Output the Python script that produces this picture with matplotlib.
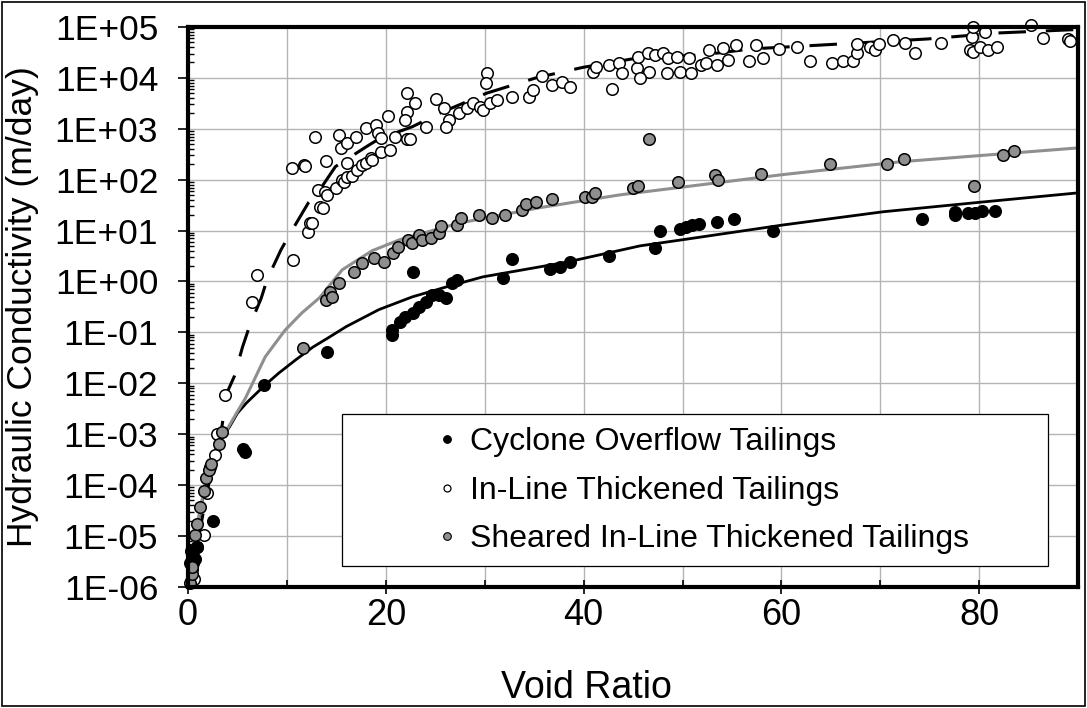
import numpy as np
import matplotlib
matplotlib.use("Agg")
import matplotlib.pyplot as plt
from matplotlib.ticker import FuncFormatter, LogLocator, MultipleLocator, NullFormatter
from matplotlib.patches import Rectangle
from matplotlib.lines import Line2D

plt.rcParams['font.family'] = ['Liberation Sans', 'DejaVu Sans']

# cyclone overflow tailings: void ratio, hydraulic conductivity (m/day)
cyclone_e = [0.2, 0.3, 0.5, 0.7, 0.9, 0.4, 2.5, 5.6, 5.8, 7.7, 14.1, 20.6, 20.6,
             21.4, 21.9, 22.7, 23.4, 24.1, 24.7, 25.4, 26.1, 26.7, 27.2, 22.7,
             31.8, 32.8, 36.6, 37.6, 38.6, 42.6, 47.2, 47.7, 49.7, 50.4, 51.0,
             51.7, 53.5, 55.2, 59.2, 74.2, 77.6, 77.6, 78.9, 79.6, 80.3, 81.6]
cyclone_k = [3.0e-6, 5.0e-6, 4.0e-6, 3.5e-6, 6.0e-6, 2.2e-6, 2.0e-5, 5.1e-4,
             4.5e-4, 9.3e-3, 4.1e-2, 8.9e-2, 0.11, 0.16, 0.20, 0.24, 0.32,
             0.40, 0.54, 0.54, 0.48, 0.93, 1.07, 1.55, 1.17, 2.77, 1.77, 1.9,
             2.4, 3.2, 4.6, 9.8, 10.7, 11.7, 12.9, 13.5, 14.8, 17.0, 9.8, 17.0,
             20.4, 23.0, 22.3, 22.3, 24.0, 24.0]

# in-line thickened tailings
inline_e = [0.3, 0.6, 0.5, 0.9, 1.6, 1.9, 2.2, 2.7, 2.9, 3.7, 6.5, 7.0, 10.6,
            12.1, 12.3, 12.5, 13.3, 13.6, 13.1, 13.8, 14.1, 15.0, 15.6, 15.8,
            16.1, 16.6, 17.1, 16.1, 17.6, 18.0, 18.5, 18.6, 19.5, 20.4, 20.9,
            22.1, 22.4, 10.5, 11.7, 11.8, 13.9, 12.8, 15.3, 15.5, 16.1, 17.0,
            18.0, 19.0, 19.2, 20.2, 19.5, 22.1, 22.1, 22.9, 21.9, 24.1, 25.1,
            25.9, 26.4, 26.1, 27.4, 28.2, 28.8, 29.5, 29.8, 30.2, 30.1, 30.5,
            31.2, 32.8, 34.5, 34.9, 35.8, 36.8, 37.8, 38.6, 40.9, 41.3, 42.6,
            43.6, 43.9, 42.9, 45.4, 45.5, 46.5, 46.6, 45.7, 47.2, 48.0, 48.4,
            48.5, 49.4, 49.7, 50.7, 50.9, 51.9, 52.4, 52.7, 53.5, 54.1, 54.6,
            55.4, 56.7, 57.4, 58.1, 59.8, 61.6, 62.9, 65.1, 66.2, 67.2, 67.6,
            67.6, 69.0, 69.5, 69.9, 71.3, 72.5, 73.5, 76.1, 79.1, 79.3, 79.4,
            79.4, 80.1, 80.6, 80.9, 81.8, 85.2, 86.5, 89.0, 89.2]
inline_k = [1.3e-6, 1.4e-6, 3.0e-6, 6.0e-6, 1.05e-5, 6.9e-5, 2.3e-4, 3.9e-4,
            1.0e-3, 5.9e-3, 0.40, 1.35, 2.6, 9.4, 14, 14, 29, 28, 63, 58, 50,
            69, 98, 89, 112, 120, 155, 213, 190, 213, 267, 240, 350, 380, 690,
            630, 630, 170, 195, 186, 234, 690, 755, 420, 520, 690, 1040, 1180,
            830, 1780, 660, 2140, 5000, 3200, 1480, 1100, 3900, 2570, 1480,
            1100, 2040, 2570, 3240, 2700, 2300, 12600, 7900, 3240, 3700, 4150,
            4150, 5750, 11000, 7250, 8300, 6600, 13200, 16200, 17800, 19500,
            12600, 6000, 15500, 25700, 30900, 13200, 10000, 28200, 30900,
            12600, 24500, 25700, 13200, 24500, 12600, 17800, 19500, 35500,
            17800, 38900, 22400, 44700, 21400, 44700, 24500, 37200, 40700,
            21400, 19500, 21400, 21400, 30900, 46800, 40700, 35500, 46800,
            55000, 49000, 30900, 49000, 35500, 63000, 100000, 32400, 40700,
            79000, 35500, 40700, 110000, 60000, 57500, 52500]

# sheared in-line thickened tailings
sheared_e = [0.2, 0.4, 0.4, 0.7, 0.9, 1.2, 1.6, 1.8, 2.1, 2.3, 3.1, 3.4, 11.6,
             13.9, 14.4, 14.6, 15.3, 16.8, 17.6, 18.8, 19.8, 20.7, 21.2, 22.2,
             22.6, 23.4, 23.7, 24.6, 25.4, 25.6, 27.2, 27.6, 29.4, 30.7, 32.0,
             33.8, 34.2, 35.2, 36.8, 40.1, 40.8, 41.1, 45.0, 45.5, 46.6, 49.5,
             53.3, 53.6, 57.9, 64.9, 70.7, 72.4, 79.5, 82.4, 83.5]
sheared_k = [1.2e-6, 1.8e-6, 2.5e-6, 1.05e-5, 1.7e-5, 3.7e-5, 7.6e-5, 1.4e-4,
             2.0e-4, 2.6e-4, 6.4e-4, 1.1e-3, 4.9e-2, 0.43, 0.62, 0.50, 0.93,
             1.5, 2.3, 2.9, 2.4, 3.6, 4.8, 6.6, 5.8, 8.1, 6.6, 7.1, 8.9, 12.3,
             12.9, 17.8, 20.4, 17.8, 20.4, 25, 33, 36, 42, 46, 46, 55, 69, 76,
             630, 89, 123, 98, 129, 204, 204, 257, 76, 309, 363]

# fitted trend curves
cyclone_fit_e = [0.05, 0.5, 1.1, 2.1, 3.1, 4.2, 5.0, 5.9, 7.8, 9.2, 10.9, 12.6,
                 14.3, 16.0, 19.3, 22.7, 26.1, 29.8, 38.3, 45.7, 50.0, 60.2,
                 70.3, 80.1, 90.0]
cyclone_fit_k = [1.0e-6, 6.3e-6, 2.3e-5, 2.3e-4, 6.8e-4, 1.4e-3, 2.6e-3, 4.1e-3,
                 9.3e-3, 1.6e-2, 2.9e-2, 5.1e-2, 8.1e-2, 0.13, 0.28, 0.50, 0.78,
                 1.23, 2.4, 5.0, 6.6, 12.9, 23.4, 36, 55]

inline_fit_e = [0.05, 0.9, 1.9, 2.7, 3.4, 3.9, 4.7, 5.5, 6.2, 7.4, 8.0, 9.4,
                10.5, 12.2, 13.6, 14.9, 18.0, 19.3, 22.7, 25.4, 30.2, 35.2,
                39.9, 45.7, 51.9, 57.0, 64.9, 74.8, 81.9, 90.0]
inline_fit_k = [1.0e-6, 6.3e-6, 6.9e-5, 3.9e-4, 1.3e-3, 6.3e-3, 1.4e-2, 5.1e-2,
                0.13, 0.47, 1.1, 4.2, 10, 36, 76, 180, 440, 630, 1100, 2000,
                5000, 1.0e4, 1.6e4, 2.5e4, 2.8e4, 3.7e4, 4.5e4, 5.8e4, 7.6e4,
                8.9e4]

sheared_fit_e = [0.05, 0.5, 1.1, 2.1, 3.1, 3.9, 5.0, 5.8, 7.8, 9.8, 11.5, 13.3,
                 15.6, 18.6, 21.4, 27.4, 35.5, 43.6, 60.2, 72.0, 90.0]
sheared_fit_k = [1.0e-6, 6.3e-6, 2.5e-5, 2.4e-4, 7.1e-4, 1.2e-3, 2.8e-3, 5.1e-3,
                 3.3e-2, 0.11, 0.24, 0.48, 1.7, 4.0, 6.6, 14, 28, 50, 126, 224,
                 420]

labels = ["Cyclone Overflow Tailings", "In-Line Thickened Tailings",
          "Sheared In-Line Thickened Tailings"]

GREY = "#8f8f8f"

fig = plt.figure(figsize=(10.87, 7.08), dpi=100)
ax = fig.add_axes([0.173, 0.171, 0.8188, 0.791])

# trend lines first so the markers sit on top
ax.plot(cyclone_fit_e, cyclone_fit_k, color="black", lw=2.0, zorder=3)
ax.plot(sheared_fit_e, sheared_fit_k, color=GREY, lw=2.2, zorder=3)
ax.plot(inline_fit_e, inline_fit_k, color="black", lw=2.2, dashes=(9, 6.5),
        zorder=3)

mk = dict(linestyle="none", marker="o", markersize=8.3, markeredgewidth=1.1,
          markeredgecolor="black", clip_on=False)
ax.plot(inline_e, inline_k, markerfacecolor="white", zorder=4, **mk)
ax.plot(cyclone_e, cyclone_k, markerfacecolor="black", zorder=5, **mk)
ax.plot(sheared_e, sheared_k, markerfacecolor=GREY, zorder=6, **mk)

ax.set_yscale("log")
ax.set_xlim(0, 90)
ax.set_ylim(1e-6, 1e5)

ax.xaxis.set_major_locator(MultipleLocator(20))
ax.xaxis.set_minor_locator(MultipleLocator(10))
ax.yaxis.set_major_locator(LogLocator(base=10, numticks=20))
ax.yaxis.set_minor_locator(LogLocator(base=10, subs=np.arange(2, 10), numticks=20))
ax.yaxis.set_minor_formatter(NullFormatter())
ax.yaxis.set_major_formatter(
    FuncFormatter(lambda v, p: "1E{:+03d}".format(int(round(np.log10(v))))))

ax.grid(True, which="major", axis="y", color="#b4b4b4", lw=1.0)
ax.grid(True, which="both", axis="x", color="#b4b4b4", lw=1.0)
ax.set_axisbelow(True)

ax.tick_params(axis="x", which="major", direction="inout", length=10, width=1.2,
               labelsize=26, pad=3)
ax.tick_params(axis="x", which="minor", direction="in", length=5, width=1.2)
ax.tick_params(axis="y", which="major", direction="out", length=7.5, width=1.2,
               labelsize=25.5, pad=14)
ax.tick_params(axis="y", which="minor", direction="in", length=4, width=1.0)

for s in ax.spines.values():
    s.set_linewidth(3.0)
    s.set_zorder(7)

ax.set_xlabel("Void Ratio", fontsize=27)
ax.set_ylabel("Hydraulic Conductivity (m/day)", fontsize=25.5)
ax.xaxis.set_label_coords(0.448, -0.148)
ax.yaxis.set_label_coords(-0.168, 0.5)

# legend box with the entries set inside it
ax.add_patch(Rectangle((0.173, 0.0375), 0.793, 0.271, transform=ax.transAxes,
                       facecolor="white", edgecolor="black", lw=0.9, zorder=8))
handles = [
    Line2D([], [], ls="none", marker="o", markersize=5.5, markerfacecolor="black",
           markeredgecolor="black", markeredgewidth=0.8),
    Line2D([], [], ls="none", marker="o", markersize=5.0, markerfacecolor="white",
           markeredgecolor="black", markeredgewidth=0.9),
    Line2D([], [], ls="none", marker="o", markersize=5.5, markerfacecolor=GREY,
           markeredgecolor="black", markeredgewidth=0.8),
]
leg = ax.legend(handles, labels, loc="upper left", bbox_to_anchor=(0.2766, 0.285),
                frameon=False, fontsize=23, borderpad=0, borderaxespad=0,
                handlelength=0.8, handletextpad=0.32, labelspacing=0.58)
leg.set_zorder(9)

# thin frame round the whole figure
fig.patches.append(Rectangle((0.0015, 0.003), 0.997, 0.994, transform=fig.transFigure,
                             fill=False, edgecolor="black", lw=1.2))

fig.savefig("out.png", dpi=100)
